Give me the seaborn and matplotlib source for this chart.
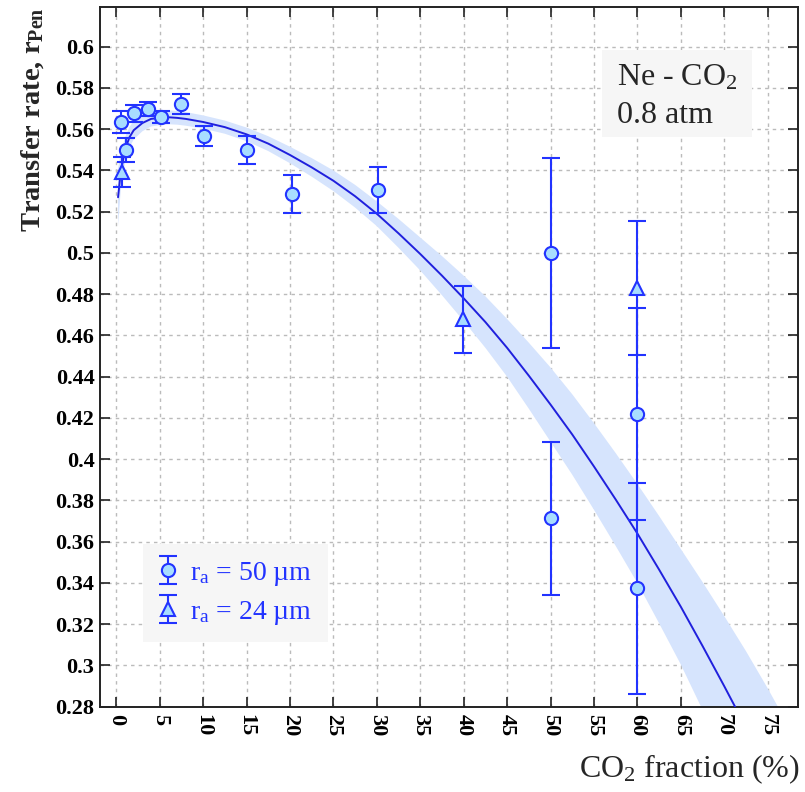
import matplotlib
matplotlib.use("Agg")
import matplotlib.pyplot as plt
import seaborn as sns
import numpy as np
import pandas as pd
from matplotlib.patches import Rectangle

# ---- data ----
x50 = [0.5, 1.1, 2.0, 3.6, 5.1, 7.5, 10.1, 15.1, 20.2, 30.1, 50.0, 50.0, 60.0, 60.0]
y50 = [0.5636, 0.5499, 0.5677, 0.5698, 0.5658, 0.5721, 0.5568, 0.5499, 0.5286,
       0.5305, 0.500, 0.3713, 0.4219, 0.3374]
e50 = [0.0053, 0.006, 0.004, 0.0035, 0.003, 0.0048, 0.0048, 0.007, 0.0093,
       0.0112, 0.046, 0.0369, 0.0516, 0.0512]

x24 = [0.6, 39.9, 60.0]
y24 = [0.5394, 0.4678, 0.4829]
e24 = [0.0072, 0.0162, 0.0324]

fit_x = [0.2, 0.5, 1, 1.5, 2, 3, 4, 5, 6, 7, 8, 10, 12.5, 15, 17.5, 20, 22.5, 25,
         27.5, 30, 32.5, 35, 37.5, 40, 42.5, 45, 47.5, 50, 52.5, 55, 57.5, 60,
         62.5, 65, 67.5, 70, 72.5, 75, 77.5]
fit_y = [0.527, 0.539, 0.550, 0.556, 0.5595, 0.563, 0.565, 0.5655, 0.5658, 0.5655,
         0.565, 0.5635, 0.561, 0.5575, 0.553, 0.5475, 0.5415, 0.535, 0.5275, 0.519,
         0.5095, 0.4995, 0.489, 0.478, 0.4665, 0.454, 0.4405, 0.4265, 0.412, 0.3965,
         0.3805, 0.364, 0.3465, 0.3285, 0.3095, 0.290, 0.270, 0.249, 0.227]
fit_err = [0.014, 0.009, 0.006, 0.005, 0.0045, 0.004, 0.0037, 0.0035, 0.0034, 0.0033,
           0.0033, 0.0032, 0.0032, 0.0033, 0.0036, 0.004, 0.0045, 0.005, 0.0055, 0.006,
           0.007, 0.008, 0.0095, 0.011, 0.0125, 0.014, 0.016, 0.018, 0.0195, 0.021,
           0.0225, 0.024, 0.026, 0.028, 0.031, 0.034, 0.037, 0.040, 0.043]

xticks = list(range(0, 80, 5))
yticks = [0.28, 0.30, 0.32, 0.34, 0.36, 0.38, 0.40, 0.42, 0.44, 0.46, 0.48, 0.50,
          0.52, 0.54, 0.56, 0.58, 0.60]

# ---- style ----
sns.set_theme(style="ticks")
plt.rcParams["font.family"] = ["Liberation Serif", "DejaVu Serif"]
plt.rcParams["mathtext.fontset"] = "custom"
plt.rcParams["mathtext.rm"] = "Liberation Serif"
plt.rcParams["mathtext.default"] = "regular"

BLUE = "#2233ff"
LINE = "#2020dd"
FACE = "#a8ddff"
BAND = "#d6e4fd"

fig = plt.figure(figsize=(8.05, 7.92), dpi=100)
ax = fig.add_axes([100 / 805, 1 - 706.7 / 792, 698 / 805, 700 / 792])

fit_df = pd.DataFrame({"x": fit_x, "y": fit_y, "e": fit_err})
ax.fill_between(fit_df["x"], fit_df["y"] - fit_df["e"], fit_df["y"] + fit_df["e"],
                color=BAND, lw=0, zorder=2)
sns.lineplot(data=fit_df, x="x", y="y", ax=ax, color=LINE, lw=1.4, zorder=3,
             legend=False)

ax.errorbar(x50, y50, yerr=e50, fmt="o", ms=9.5, mfc=FACE, mec=BLUE, mew=1.5,
            ecolor=BLUE, elinewidth=1.5, capsize=6.5, capthick=1.5, color=BLUE,
            zorder=5, label=r"r$_{\mathregular{a}}$ = 50 µm")
ax.errorbar(x24, y24, yerr=e24, fmt="^", ms=10.5, mfc=FACE, mec=BLUE, mew=1.5,
            ecolor=BLUE, elinewidth=1.5, capsize=6.5, capthick=1.5, color=BLUE,
            zorder=5, label=r"r$_{\mathregular{a}}$ = 24 µm")

ax.set_xlim(-1.88, 78.5)
ax.set_ylim(0.28, 0.6194)
ax.set_xticks(xticks)
ax.set_yticks(yticks)
ax.set_yticklabels([f"{v:g}" for v in yticks], fontsize=16, fontweight="bold")
ax.set_xticklabels([str(v) for v in xticks], fontsize=16, fontweight="bold",
                   rotation=-90)
ax.tick_params(direction="in", length=7, width=1.2, top=True, right=True,
               colors="#222222", labelcolor="black")
ax.tick_params(axis="y", pad=4)
ax.tick_params(axis="x", pad=5)
for s in ax.spines.values():
    s.set_visible(True)
    s.set_linewidth(1.4)
    s.set_color("#222222")

ax.grid(True, color="#bbbbbb", lw=1.0, ls=(0, (2.5, 3)))
ax.set_axisbelow(True)

ax.set_xlabel("")
ax.set_ylabel("")
fig.text(33 / 805, 1 - 120 / 792, r"Transfer rate, r$_{\mathregular{Pen}}$",
         rotation=90, ha="center", va="center", fontsize=20.5, fontweight="bold")
fig.text(800 / 805, 1 - 777 / 792, r"CO$_{\mathregular{2}}$ fraction (%)",
         ha="right", va="baseline", fontsize=23)

# annotation box
ax.add_patch(Rectangle(((601.7 - 100) / 698, (706.7 - 137) / 700), 150 / 698, 87 / 700,
                       transform=ax.transAxes, facecolor="#f6f6f6", edgecolor="none",
                       zorder=4))
ax.text((616.7 - 100) / 698, (706.7 - 85) / 700, r"Ne - CO$_{\mathregular{2}}$",
        transform=ax.transAxes, fontsize=23, va="baseline", ha="left", zorder=6)
ax.text((616.7 - 100) / 698, (706.7 - 123) / 700, "0.8 atm",
        transform=ax.transAxes, fontsize=23, va="baseline", ha="left", zorder=6)

leg = ax.legend(loc="lower left", bbox_to_anchor=((143 - 100) / 698, (706.7 - 642) / 700),
                borderaxespad=0, frameon=True, fancybox=False, facecolor="#f6f6f6",
                edgecolor="none", framealpha=1, fontsize=20, handlelength=0.7,
                handletextpad=0.45, labelspacing=0.4, borderpad=0.55,
                labelcolor=BLUE)
leg.set_zorder(6)

fig.savefig("out.png", dpi=100)
